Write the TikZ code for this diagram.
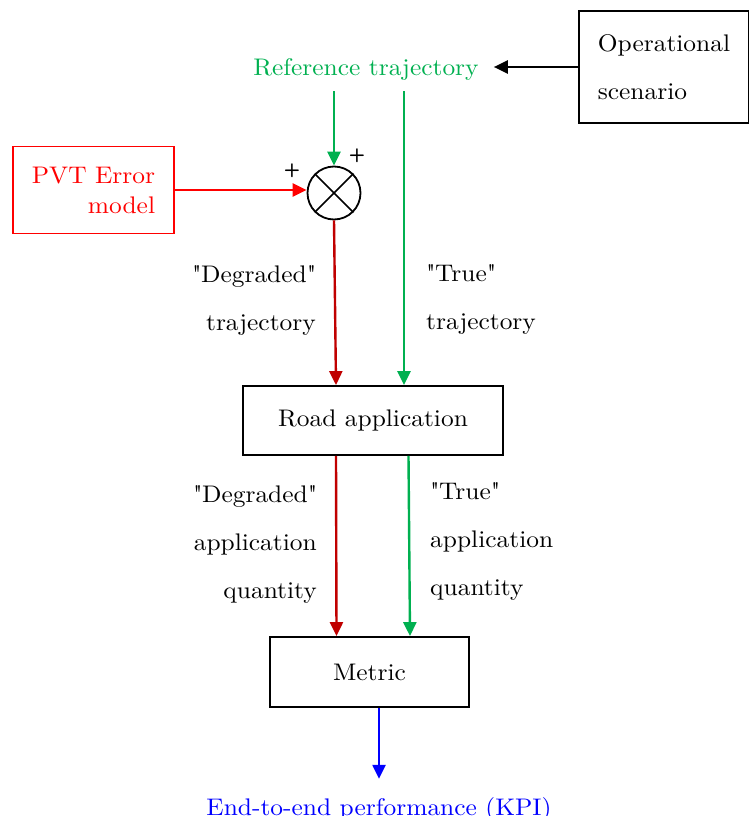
\documentclass[tikz,border=0pt]{standalone}
\usepackage{fontspec}
\setmainfont{lmroman10-regular.otf}[FakeStretch=1.06]
\usepackage{xcolor}
\usepackage{tikz}
\usetikzlibrary{arrows.meta,positioning}
\definecolor{truegreen}{HTML}{00B050}
\definecolor{errred}{HTML}{FF0000}
\definecolor{degred}{HTML}{C00000}
\definecolor{kpiblue}{HTML}{0000FF}
\newcommand{\figfont}{\fontsize{24}{48}\selectfont}
\newcommand{\qq}[1]{\textquotedbl#1\textquotedbl}
\tikzset{
  % ---- blocks -----------------------------------------------------------
  blk/.style={draw=black, line width=1.8pt, inner sep=0pt, align=center,
    font=\figfont},
  blkerr/.style={blk, draw=errred, text=errred},
  lbl/.style={inner sep=0pt, font=\figfont},
  sumjn/.style={draw, circle, line width=1.8pt, minimum size=53pt,
    inner sep=0pt},
  sign/.style={inner sep=0pt, font=\fontsize{19}{19}\selectfont\sffamily\bfseries},
  % ---- connections ------------------------------------------------------
  flow/.style={-{Triangle[length=14pt,width=13pt]}, line width=2.4pt},
  flowops/.style={flow, color=black},
  flowtrue/.style={flow, color=truegreen},
  flowdeg/.style={flow, color=degred},
  flowerr/.style={flow, color=errred},
  flowkpi/.style={flow, color=kpiblue},
}
\begin{document}
\begin{tikzpicture}[x=1pt, y=-1pt]
\useasboundingbox (0,0) rectangle (749,816);

% ---------------- sources ----------------------------------------------
\node[blk, minimum width=170pt, minimum height=112pt, align=left] (ops)
  at (664,67) {Operational\\scenario};
\node[lbl, text=truegreen] (ref) at (366,69) {Reference trajectory};

\node[blkerr, minimum width=161pt, minimum height=87pt, align=right,
      font=\fontsize{24}{30}\selectfont] (pvt)
  at (93.5,190) {PVT Error\\model};

% ---------------- summing junction -------------------------------------
\node[sumjn] (sum) at (334,193) {};
\draw[line width=1.6pt] (sum.north west) -- (sum.south east);
\draw[line width=1.6pt] (sum.north east) -- (sum.south west);
\node[sign] (plusl) at (292,170.5) {+};
\node[sign] (plusr) at (357,155.5) {+};

% ---------------- processing -------------------------------------------
\node[blk, minimum width=260pt, minimum height=69pt] (road)
  at (373,420.5) {Road application};
\node[blk, minimum width=199pt, minimum height=70pt] (metric)
  at (369.5,672) {Metric};

% ---------------- labels -----------------------------------------------
\node[lbl, align=right, anchor=east] (degtraj) at (316,300)
  {\qq{Degraded}\\trajectory};
\node[lbl, align=left, anchor=west] (truetraj) at (426,299)
  {\qq{True}\\trajectory};
\node[lbl, align=right, anchor=east] (degqty) at (317,544)
  {\qq{Degraded}\\application\\quantity};
\node[lbl, align=left, anchor=west] (trueqty) at (430,541.5)
  {\qq{True}\\application\\quantity};
\node[lbl, text=kpiblue, anchor=base] (kpi) at (379,815)
  {End-to-end performance (KPI)};

% ---------------- connectors -------------------------------------------
\draw[flowops] (ops.west) -- ([xshift=15pt]ref.east |- ops.west);
\draw[flowtrue] ([yshift=-11pt]ref.south -| sum.north) -- (sum.north);
\draw[flowtrue] ([xshift=31pt,yshift=-11pt]ref.south -| road.north)
  -- ([xshift=31pt]road.north);
\draw[flowerr] (pvt.east) -- (pvt.east -| sum.west);
\draw[flowdeg] (sum.south) -- ([xshift=-37pt]road.north);
\draw[flowdeg] ([xshift=-37pt]road.south) -- ([xshift=-33pt]metric.north);
\draw[flowtrue] ([xshift=35.5pt]road.south) -- ([xshift=40.5pt]metric.north);
\draw[flowkpi] ([xshift=9.5pt]metric.south) -- ([yshift=18pt]kpi.north);

\end{tikzpicture}
\end{document}
